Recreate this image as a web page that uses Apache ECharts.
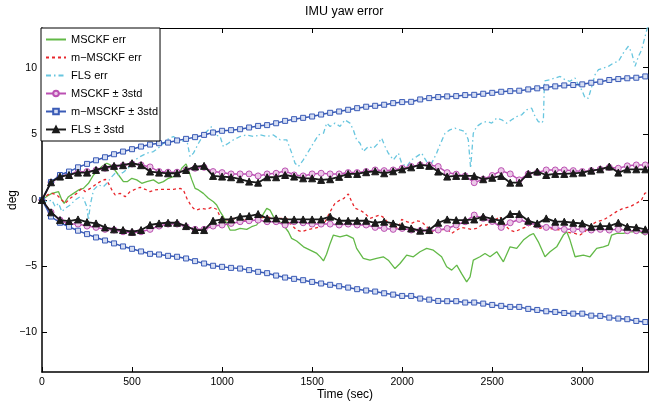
<!DOCTYPE html>
<html><head><meta charset="utf-8">
<script src="https://cdn.jsdelivr.net/npm/echarts@6/dist/echarts.min.js"></script>
<style>html,body{margin:0;padding:0;background:#fff}#c{width:649px;height:403px}</style>
</head><body><div id="c"></div>
<script>
// ---- data ----
var xTicks = [0, 500, 1000, 1500, 2000, 2500, 3000];
var yTicks = [-10, -5, 0, 5, 10];

var boundT = [0,50,100,150,200,250,300,350,400,450,500,550,600,650,700,750,800,850,900,950,1000,1050,1100,1150,1200,1250,1300,1350,1400,1450,1500,1550,1600,1650,1700,1750,1800,1850,1900,1950,2000,2050,2100,2150,2200,2250,2300,2350,2400,2450,2500,2550,2600,2650,2700,2750,2800,2850,2900,2950,3000,3050,3100,3150,3200,3250,3300,3350];

var mscUp = [0,1.34,1.77,1.95,2.12,2.15,2.25,2.4,2.5,2.6,2.72,2.65,2.5,2.15,2.1,2.1,2.25,2.4,2.47,2.15,2.07,1.97,1.97,1.97,1.82,1.97,2.02,2.2,1.89,1.82,1.97,2.02,1.97,1.97,2.07,2.07,2.15,2.27,2.22,2.27,2.4,2.53,2.65,2.65,2.53,2.07,1.95,1.82,1.31,1.57,1.85,2.22,1.97,1.52,1.97,2.07,2.27,2.27,2.27,2.22,2.15,2.22,2.32,2.47,2.4,2.58,2.65,2.65];
var mscLo = [0,-0.93,-1.52,-1.82,-1.82,-1.97,-2.07,-2.22,-2.27,-2.4,-2.47,-2.4,-2.22,-1.97,-1.82,-1.82,-2.02,-2.22,-2.22,-1.97,-1.89,-1.77,-1.64,-1.57,-1.52,-1.64,-1.64,-1.89,-1.64,-1.72,-1.82,-1.82,-1.82,-1.89,-1.82,-1.89,-1.89,-2.07,-2.15,-2.22,-2.15,-2.27,-2.32,-2.32,-2.27,-2.15,-1.89,-1.64,-1.14,-1.39,-1.62,-2.07,-1.72,-1.47,-1.72,-1.89,-2.07,-2.07,-2.22,-2.22,-2.22,-2.27,-2.22,-2.27,-2.22,-2.32,-2.32,-2.4];
var mmsUp = [0,1.35,1.89,2.15,2.47,2.73,3.0,3.23,3.46,3.66,3.84,4.04,4.19,4.29,4.34,4.5,4.62,4.75,4.92,5.1,5.23,5.28,5.35,5.48,5.6,5.66,5.8,5.98,6.11,6.21,6.31,6.46,6.59,6.69,6.82,6.94,7.05,7.12,7.2,7.32,7.4,7.42,7.6,7.7,7.78,7.83,7.85,7.93,7.95,8.03,8.1,8.18,8.23,8.26,8.36,8.44,8.51,8.59,8.66,8.69,8.74,8.86,8.94,9.07,9.14,9.2,9.24,9.34];
var mmsLo = [0,-1.25,-1.72,-2.02,-2.32,-2.58,-2.83,-3.06,-3.28,-3.51,-3.69,-3.89,-4.07,-4.12,-4.22,-4.29,-4.42,-4.62,-4.8,-4.97,-5.05,-5.13,-5.18,-5.3,-5.43,-5.53,-5.71,-5.86,-5.96,-6.06,-6.19,-6.31,-6.41,-6.52,-6.62,-6.74,-6.84,-6.92,-7.05,-7.15,-7.25,-7.25,-7.45,-7.53,-7.63,-7.65,-7.65,-7.75,-7.75,-7.83,-7.93,-8.0,-8.08,-8.08,-8.23,-8.31,-8.41,-8.46,-8.54,-8.59,-8.59,-8.74,-8.76,-8.89,-8.96,-9.01,-9.14,-9.22];
var flsUp = [0,1.34,1.77,1.89,2.07,2.07,2.27,2.47,2.58,2.63,2.78,2.63,2.15,2.07,2.02,2.02,2.27,2.53,2.58,1.82,1.77,1.72,1.57,1.39,1.31,1.72,1.72,1.89,1.77,1.64,1.64,1.52,1.57,1.75,1.97,1.97,2.1,2.17,2.02,2.17,2.32,2.47,2.65,2.58,2.15,1.77,1.82,1.82,1.82,1.57,1.68,1.82,1.31,1.31,1.97,2.15,1.89,1.97,1.97,2.02,2.07,2.22,2.32,2.53,2.07,2.32,2.32,2.32];
var flsLo = [0,-0.93,-1.52,-1.59,-1.47,-1.67,-1.77,-2.07,-2.22,-2.27,-2.4,-2.27,-1.89,-1.77,-1.72,-1.72,-1.97,-2.27,-2.27,-1.57,-1.47,-1.47,-1.26,-1.21,-1.06,-1.39,-1.39,-1.47,-1.47,-1.47,-1.47,-1.47,-1.26,-1.57,-1.57,-1.57,-1.57,-1.72,-1.64,-1.77,-1.97,-2.15,-2.32,-2.27,-1.72,-1.47,-1.52,-1.52,-1.47,-1.26,-1.42,-1.57,-1.06,-1.06,-1.57,-1.77,-1.39,-1.64,-1.64,-1.72,-1.77,-2.02,-1.97,-1.97,-1.72,-2.02,-2.07,-2.22];

var mscErrT = [0,30,55,92,110,123,147,175,203,230,258,286,314,332,360,379,397,425,452,475,499,526,554,582,619,647,674,702,730,758,776,800,813,832,850,869,896,924,952,970,989,1007,1026,1044,1072,1100,1137,1164,1192,1220,1248,1266,1285,1312,1340,1368,1386,1414,1452,1489,1526,1545,1563,1580,1600,1618,1655,1692,1729,1747,1784,1821,1858,1895,1923,1960,1988,2025,2062,2099,2136,2173,2219,2247,2275,2303,2330,2358,2377,2395,2432,2460,2488,2525,2562,2599,2636,2673,2710,2729,2756,2793,2821,2858,2895,2914,2932,2960,3006,3043,3080,3117,3145,3163,3191,3228,3265,3321,3348,3365];
var mscErr = [0,0.3,0.5,0.63,0.0,-0.25,0.25,0.5,0.76,0.88,1.26,1.89,2.27,2.53,2.78,2.65,2.4,1.89,1.39,1.4,1.64,1.52,1.26,1.39,1.52,1.26,1.39,1.64,1.77,1.89,2.4,2.73,2.27,1.52,0.88,0.76,0.5,0.13,-0.13,-0.38,-0.88,-1.26,-1.77,-2.27,-2.27,-2.15,-2.22,-2.02,-1.89,-1.26,-0.63,-0.76,-1.26,-1.52,-1.89,-2.4,-2.9,-3.1,-3.54,-3.79,-4.04,-4.3,-4.6,-4.1,-3.28,-2.65,-2.78,-2.65,-2.9,-3.66,-4.42,-4.55,-4.42,-4.29,-4.55,-5.18,-4.8,-4.17,-4.29,-3.91,-3.66,-3.79,-4.29,-5.05,-5.3,-4.92,-5.56,-6.19,-5.81,-4.55,-4.29,-4.04,-4.29,-3.91,-4.67,-3.54,-3.66,-3.03,-2.65,-2.53,-3.16,-4.29,-3.91,-3.54,-2.65,-2.4,-3.03,-4.29,-4.17,-4.29,-3.66,-3.54,-3.41,-2.65,-2.53,-2.53,-2.4,-2.4,-2.65,-2.4];

var mmsErrT = [0,30,55,83,110,129,157,193,221,240,268,295,323,351,369,388,406,434,462,489,517,545,573,600,628,656,693,730,767,785,804,822,841,859,887,915,943,970,989,1007,1026,1063,1100,1137,1174,1211,1248,1285,1322,1359,1386,1414,1442,1470,1507,1544,1572,1600,1627,1655,1674,1701,1720,1738,1765,1793,1821,1849,1876,1904,1923,1950,1978,1997,2025,2052,2080,2108,2136,2163,2191,2219,2247,2274,2302,2330,2358,2385,2413,2441,2469,2496,2515,2543,2570,2598,2626,2654,2681,2709,2737,2765,2792,2820,2848,2876,2903,2931,2959,2987,3014,3042,3079,3116,3153,3190,3227,3264,3301,3329,3347,3365];
var mmsErr = [0,0.38,0.5,0.38,0,-0.25,0.13,0.5,0.88,0.63,0.88,1.14,1.39,1.57,1.26,0.76,0.38,0.5,0.25,0.63,0.81,0.96,0.81,0.63,0.76,0.81,0.81,0.81,0.88,0.76,0.13,-0.3,-0.63,-0.76,-0.63,-0.7,-0.55,-0.7,-1.26,-1.39,-1.52,-1.39,-1.52,-1.52,-1.39,-1.39,-1.26,-1.39,-1.39,-1.39,-1.89,-2.27,-2.4,-2.27,-2.15,-2.02,-1.64,-0.88,-0.25,0.0,0.1,0.46,-0.13,-0.63,-0.76,-1.01,-1.39,-1.26,-1.14,-1.39,-1.77,-2.02,-2.15,-1.47,-1.64,-1.77,-1.57,-1.64,-2.02,-2.4,-2.27,-2.27,-2.15,-2.53,-2.27,-2.07,-2.15,-2.22,-2.15,-1.89,-1.89,-1.6,-1.52,-1.26,-1.89,-2.27,-2.4,-2.22,-2.07,-1.89,-2.02,-2.15,-2.02,-2.15,-2.22,-2.27,-2.4,-2.47,-2.53,-2.65,-2.4,-1.97,-1.64,-1.52,-1.21,-0.88,-0.63,-0.51,-0.25,0.0,0.5,0.6];

var flsErrT = [0,27,55,73,92,110,129,157,184,212,230,249,258,268,286,314,341,360,388,406,425,452,489,517,545,582,619,656,693,730,767,804,822,841,869,896,915,943,961,989,1007,1035,1063,1100,1137,1174,1211,1248,1285,1322,1359,1387,1405,1424,1451,1479,1507,1535,1563,1581,1600,1627,1655,1682,1710,1729,1747,1766,1784,1812,1840,1867,1886,1905,1923,1951,1979,1997,2025,2052,2080,2108,2136,2154,2173,2191,2210,2238,2265,2293,2321,2349,2367,2380,2390,2395,2414,2441,2469,2497,2525,2553,2580,2608,2636,2664,2691,2719,2738,2756,2775,2784,2790,2821,2849,2877,2904,2932,2960,2978,2997,3016,3034,3053,3071,3090,3117,3145,3173,3201,3228,3256,3275,3293,3312,3330,3349,3365];
var flsErr = [0,-0.13,0,-0.51,-0.25,-0.88,-0.63,-0.38,0,0.25,0.13,-0.51,-1.52,-0.38,0.76,1.14,1.01,1.26,1.77,2.02,1.89,2.1,2.53,3.03,3.28,3.54,3.66,4.04,4.55,4.8,4.42,4.55,3.28,3.54,4.29,4.92,5.18,5.56,4.92,4.8,4.04,4.29,4.55,4.8,4.92,4.8,4.92,4.8,4.92,4.55,4.55,3.54,2.78,2.53,3.03,3.66,4.29,4.92,5.05,5.81,5.56,5.81,5.56,6.06,5.81,5.3,4.55,4.29,3.66,4.04,3.91,4.29,4.67,4.04,3.54,3.03,3.54,2.78,2.53,3.03,3.28,3.54,2.9,2.53,3.03,3.54,4.17,5.05,5.3,5.43,5.3,5.18,4.55,2.4,2.4,5.05,5.56,5.81,5.93,5.81,6.19,6.06,5.81,6.06,6.31,6.44,6.82,6.94,6.31,5.93,5.81,6.0,9.0,9.09,9.22,9.34,9.09,8.97,9.22,8.71,8.33,7.7,7.7,8.59,9.47,9.85,9.97,10.1,10.35,10.48,11.11,11.62,11.11,10.1,10.86,11.36,12.37,13.2];

// ---- build ----
function zip(t, v) { var o = []; for (var i = 0; i < t.length; i++) o.push([t[i], v[i]]); return o; }
var FONT = '"Liberation Sans", Arial, Helvetica, sans-serif';
var C = { green: '#62b947', red: '#e8262c', cyan: '#68c6df', mag: '#bb50b2', blue: '#3a5bb6', black: '#1a1a1a' };

function errSeries(name, t, v, color, type) {
  return { name: name, type: 'line', data: zip(t, v), symbol: 'none', z: 2,
    lineStyle: { color: color, width: 1.3, type: type },
    itemStyle: { color: 'rgba(0,0,0,0)', borderColor: 'rgba(0,0,0,0)', borderWidth: 0 } };
}
function boundSeries(name, v, color, symbol, size, fill, width, z) {
  return { name: name, type: 'line', data: zip(boundT, v), symbol: symbol, symbolSize: size, showAllSymbol: true, z: z,
    lineStyle: { color: color, width: width }, itemStyle: { color: fill, borderColor: color, borderWidth: 1 } };
}
var N = ['MSCKF err', 'm\u2212MSCKF err', 'FLS err', 'MSCKF \u00b1 3std', 'm\u2212MSCKF \u00b1 3std', 'FLS \u00b1 3std'];

var series = [
  errSeries(N[0], mscErrT, mscErr, C.green, 'solid'),
  errSeries(N[1], mmsErrT, mmsErr, C.red, [3, 3]),
  errSeries(N[2], flsErrT, flsErr, C.cyan, [5, 3, 1.5, 3]),
  boundSeries(N[3], mscUp, C.mag, 'circle', 6, '#ecc9e8', 1.5, 3),
  boundSeries(N[3], mscLo, C.mag, 'circle', 6, '#ecc9e8', 1.5, 3),
  boundSeries(N[4], mmsUp, C.blue, 'rect', 5, '#d6def3', 1.5, 4),
  boundSeries(N[4], mmsLo, C.blue, 'rect', 5, '#d6def3', 1.5, 4),
  boundSeries(N[5], flsUp, C.black, 'triangle', 7, C.black, 1.8, 5),
  boundSeries(N[5], flsLo, C.black, 'triangle', 7, C.black, 1.8, 5)
];

function minus(v) { return String(v).replace('-', '\u2212'); }
function plain(v) { return String(v); }
var axisLineS = { show: true, onZero: false, lineStyle: { color: '#000', width: 1 } };
var chart = echarts.init(document.getElementById('c'), null, { renderer: 'canvas' });
chart.setOption({
  animation: false,
  backgroundColor: '#fff',
  title: { text: 'IMU yaw error', left: 305, top: 5, padding: 0,
    textStyle: { fontFamily: FONT, fontSize: 12.5, fontWeight: 'normal', color: '#000' } },
  grid: { left: 42, top: 28, right: 1, bottom: 31, containLabel: false, outerBoundsMode: 'none' },
  legend: { orient: 'vertical', left: 41, top: 28, itemWidth: 20, itemHeight: 7, itemGap: 7, itemTextGap: 3,
    padding: [6, 2, 6, 4], borderColor: '#000', borderWidth: 1, borderRadius: 0, backgroundColor: '#fff',
    textStyle: { fontFamily: FONT, fontSize: 11, color: '#000' }, data: N, z: 10 },
  xAxis: [
    { type: 'value', min: 0, max: 3365, position: 'bottom', axisLine: { show: true, onZero: false, lineStyle: { color: '#000', width: 1.5 } },
      axisTick: { show: true, inside: true, length: 5, customValues: xTicks, lineStyle: { color: '#000' } },
      axisLabel: { show: true, customValues: xTicks, margin: 5, fontFamily: FONT, fontSize: 10.5, color: '#000', formatter: plain },
      splitLine: { show: false },
      name: 'Time (sec)', nameLocation: 'middle', nameGap: 17, nameMoveOverlap: false,
      nameTextStyle: { fontFamily: FONT, fontSize: 12, color: '#000' } },
    { type: 'value', min: 0, max: 3365, position: 'top', axisLine: axisLineS,
      axisTick: { show: true, inside: true, length: 5, customValues: xTicks, lineStyle: { color: '#000' } },
      axisLabel: { show: false }, splitLine: { show: false } }
  ],
  yAxis: [
    { type: 'value', min: -13, max: 13, position: 'left', axisLine: { show: true, onZero: false, lineStyle: { color: '#000', width: 1.5 } },
      axisTick: { show: true, inside: true, length: 5, customValues: yTicks, lineStyle: { color: '#000' } },
      axisLabel: { show: true, customValues: yTicks, margin: 5, fontFamily: FONT, fontSize: 10.5, color: '#000', formatter: minus },
      splitLine: { show: false },
      name: 'deg', nameLocation: 'middle', nameGap: 23, nameMoveOverlap: false,
      nameTextStyle: { fontFamily: FONT, fontSize: 12, color: '#000' } },
    { type: 'value', min: -13, max: 13, position: 'right', axisLine: axisLineS,
      axisTick: { show: true, inside: true, length: 5, customValues: yTicks, lineStyle: { color: '#000' } },
      axisLabel: { show: false }, splitLine: { show: false } }
  ],
  series: series
});
</script>
</body></html>
